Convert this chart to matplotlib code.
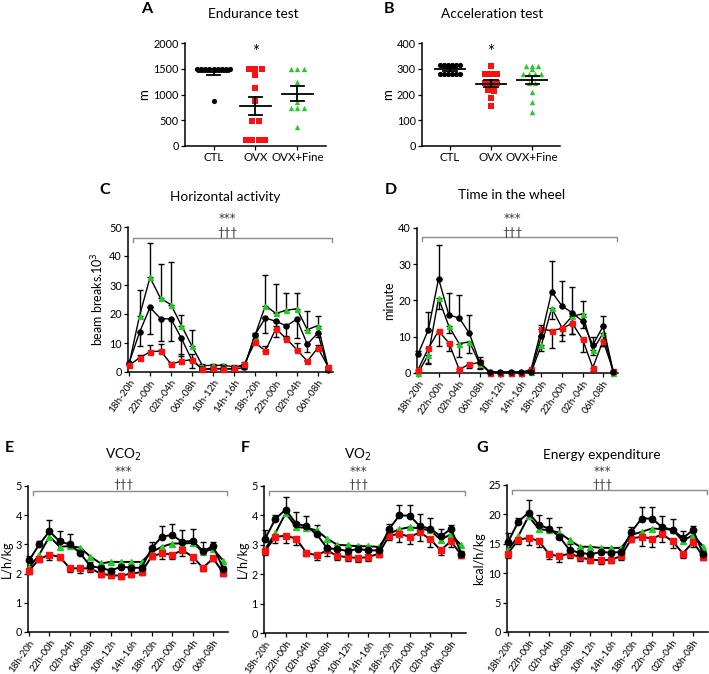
import matplotlib.pyplot as plt
import numpy as np

plt.rcParams['font.family'] = ['Lato', 'DejaVu Sans']

W, H = 709, 674

# ---- data : A / B scatter ----
groups = ["CTL", "OVX", "OVX+Fine"]
endur_ctl = [1500, 1500, 1500, 1500, 1500, 1500, 1500, 1500, 1500, 870]
endur_ovx = [1500, 1500, 1500, 1370, 1120, 870, 490, 490, 115, 115, 115, 115]
endur_fine = [1500, 1500, 1500, 1240, 860, 730, 730, 730, 360]

accel_ctl = [315, 315, 315, 315, 315, 315, 280, 280, 280, 280, 280, 280]
accel_ovx = [311, 279, 279, 279, 244, 244, 244, 216, 214, 185, 156]
accel_fine = [311, 311, 311, 298, 279, 279, 279, 279, 244, 244, 209, 172, 133]

# ---- data : time series ----
bins = ["18h-20h", "20h-22h", "22h-00h", "00h-02h", "02h-04h", "04h-06h",
        "06h-08h", "08h-10h", "10h-12h", "12h-14h", "14h-16h", "16h-18h",
        "18h-20h", "20h-22h", "22h-00h", "00h-02h", "02h-04h", "04h-06h",
        "06h-08h", "08h-10h"]

# C horizontal activity (beam breaks x10^3)
hor_ctl = [3.1, 13.7, 22.3, 18.4, 18.3, 11.6, 4.0, 0.9, 0.9, 1.3, 0.9, 1.6, 12.8, 18.6, 17.5, 15.9, 18.2, 9.6, 13.4, 0.8]
hor_ovx = [2.3, 4.9, 6.9, 7.3, 2.8, 3.7, 4.3, 1.0, 1.3, 1.0, 1.3, 2.8, 10.2, 7.3, 14.9, 11.5, 7.7, 3.7, 8.3, 1.8]
hor_fine = [2.6, 19.4, 32.6, 25.4, 23.2, 16.0, 8.9, 2.2, 2.3, 2.3, 1.8, 2.0, 12.5, 22.9, 20.2, 21.3, 21.8, 14.6, 16.0, 1.4]
hor_ctl_err = [0.5, 4.8, 9.2, 7.7, 7.6, 6.0, 2.5, 0.3, 0.5, 0.5, 0.5, 0.5, 1.5, 5.2, 5.4, 4.0, 6.5, 2.6, 1.5, 0.3]
hor_ovx_err = [0.3, 1.0, 2.3, 2.4, 0.6, 2.5, 2.0, 0.3, 0.3, 0.3, 0.3, 0.5, 0.5, 1.5, 1.0, 1.0, 2.2, 0.5, 1.0, 0.3]
hor_fine_err = [0.5, 9.0, 12.0, 12.0, 14.6, 3.8, 5.7, 0.5, 0.5, 0.5, 0.5, 0.5, 1.0, 10.5, 10.0, 6.0, 5.4, 6.5, 3.4, 0.3]

# D time in the wheel (minute)
whl_ctl = [5.2, 11.9, 26.0, 16.0, 15.2, 10.9, 2.9, 0.3, 0.3, 0.3, 0.3, 0.3, 10.2, 22.4, 18.5, 16.6, 14.3, 7.7, 12.9, 0.3]
whl_ovx = [0.9, 6.8, 11.6, 8.3, 1.0, 2.4, 2.9, 0.1, 0.1, 0.1, 0.1, 1.0, 12.1, 11.7, 12.3, 13.7, 9.3, 1.5, 8.9, 0.5]
whl_fine = [0.0, 5.0, 20.6, 12.9, 8.1, 8.6, 2.5, 0.2, 0.2, 0.2, 0.2, 0.2, 7.7, 17.9, 12.5, 15.7, 16.3, 6.3, 11.0, 0.0]
whl_ctl_err = [1.0, 5.0, 9.2, 6.2, 6.2, 5.1, 1.6, 0.2, 0.2, 0.2, 0.2, 0.2, 3.0, 8.6, 6.8, 7.2, 5.5, 2.3, 2.7, 0.2]
whl_ovx_err = [0.5, 4.0, 4.2, 2.3, 0.5, 1.0, 1.5, 0.1, 0.1, 0.1, 0.1, 0.5, 2.0, 4.7, 3.5, 3.0, 3.5, 1.0, 1.4, 0.3]
whl_fine_err = [0.0, 2.5, 3.0, 2.0, 3.6, 3.1, 1.5, 0.1, 0.1, 0.1, 0.1, 0.1, 1.7, 3.0, 2.0, 5.0, 4.0, 1.3, 3.5, 0.0]

# E VCO2 (L/h/kg)
vco2_ctl = [2.45, 3.0, 3.45, 3.1, 3.0, 2.7, 2.25, 2.2, 2.1, 2.24, 2.2, 2.2, 2.88, 3.27, 3.32, 3.08, 3.13, 2.77, 2.94, 2.15]
vco2_ovx = [2.1, 2.5, 2.65, 2.57, 2.18, 2.18, 2.18, 2.0, 1.94, 1.93, 2.0, 2.05, 2.6, 2.69, 2.65, 2.8, 2.58, 2.2, 2.52, 2.02]
vco2_fine = [2.2, 2.65, 3.27, 2.92, 2.94, 2.89, 2.58, 2.35, 2.4, 2.4, 2.4, 2.4, 2.74, 2.92, 3.03, 3.03, 3.05, 2.75, 2.84, 2.44]
vco2_ctl_err = [0.15, 0.1, 0.38, 0.35, 0.35, 0.15, 0.15, 0.1, 0.1, 0.1, 0.1, 0.1, 0.2, 0.36, 0.37, 0.4, 0.4, 0.3, 0.15, 0.1]
vco2_ovx_err = [0.1, 0.1, 0.2, 0.1, 0.12, 0.15, 0.12, 0.1, 0.1, 0.1, 0.1, 0.1, 0.1, 0.2, 0.15, 0.2, 0.2, 0.12, 0.1, 0.1]

# F VO2 (L/h/kg)
vo2_ctl = [3.2, 3.88, 4.2, 3.72, 3.63, 3.36, 2.89, 2.85, 2.79, 2.86, 2.81, 2.81, 3.53, 4.0, 3.99, 3.63, 3.55, 3.29, 3.54, 2.7]
vo2_ovx = [2.79, 3.27, 3.31, 3.21, 2.73, 2.64, 2.81, 2.62, 2.58, 2.55, 2.58, 2.7, 3.3, 3.38, 3.27, 3.42, 3.19, 2.81, 3.13, 2.64]
vo2_fine = [2.85, 3.4, 4.08, 3.6, 3.58, 3.49, 3.21, 3.0, 2.98, 2.95, 2.95, 2.93, 3.38, 3.53, 3.6, 3.55, 3.49, 3.17, 3.36, 2.98]
vo2_ctl_err = [0.3, 0.14, 0.43, 0.4, 0.35, 0.3, 0.24, 0.15, 0.15, 0.15, 0.15, 0.12, 0.17, 0.37, 0.38, 0.41, 0.36, 0.24, 0.14, 0.1]
vo2_ovx_err = [0.12, 0.22, 0.25, 0.23, 0.12, 0.17, 0.2, 0.12, 0.12, 0.12, 0.12, 0.12, 0.15, 0.3, 0.25, 0.3, 0.25, 0.15, 0.2, 0.1]

# G energy expenditure (kcal/h/kg)
ee_ctl = [15.3, 18.75, 20.3, 18.2, 17.6, 16.2, 13.9, 13.5, 13.2, 13.6, 13.5, 13.6, 17.05, 19.3, 19.3, 17.8, 17.4, 16.0, 17.3, 13.2]
ee_ovx = [13.35, 15.7, 16.0, 15.5, 13.2, 12.9, 13.35, 12.7, 12.3, 12.2, 12.3, 12.9, 15.9, 16.2, 15.9, 16.6, 15.45, 13.35, 15.3, 12.8]
ee_fine = [14.0, 16.3, 19.7, 17.5, 17.3, 16.9, 15.6, 14.5, 14.5, 14.3, 14.3, 14.3, 16.5, 17.05, 17.6, 17.5, 17.4, 15.5, 16.5, 14.5]
ee_ctl_err = [1.5, 0.6, 2.1, 1.7, 1.8, 1.6, 1.0, 0.8, 0.8, 0.8, 0.8, 0.8, 0.75, 1.9, 1.9, 1.9, 1.8, 1.2, 0.7, 0.5]
ee_ovx_err = [0.8, 0.8, 1.2, 1.0, 0.8, 1.0, 0.8, 0.6, 0.6, 0.6, 0.6, 0.6, 0.6, 1.6, 1.4, 1.3, 1.2, 0.8, 0.8, 0.5]

BLACK = '#000000'
RED = '#ff1010'
GREEN = '#22cc22'


def fx(x):
    return x / W


def fy(y):
    return 1 - y / H


def rect(l, t, r, b):
    return [fx(l), fy(b), (r - l) / W, (b - t) / H]


fig = plt.figure(figsize=(W / 100, H / 100), dpi=100)


def ftext(x, y, s, **kw):
    kw.setdefault('va', 'center')
    fig.text(fx(x), fy(y), s, ha='center', **kw)


def style(ax):
    for s in ['top', 'right']:
        ax.spines[s].set_visible(False)
    for s in ['left', 'bottom']:
        ax.spines[s].set_linewidth(1.1)
    ax.tick_params(labelsize=7.8, length=3, width=0.9, pad=1.5)


def swarm(vals, tol, step):
    vals = np.asarray(vals, float)
    xs = np.zeros(len(vals))
    used = np.zeros(len(vals), bool)
    for i in range(len(vals)):
        if used[i]:
            continue
        idx = np.where((~used) & (np.abs(vals - vals[i]) <= tol))[0]
        n = len(idx)
        xs[idx] = (np.arange(n) - (n - 1) / 2) * step
        used[idx] = True
    return xs


def scatter_panel(r, data, ylim, yticks, tol, star_y):
    ax = fig.add_axes(r)
    style(ax)
    specs = [(BLACK, 'o', 14, 0.1), (RED, 's', 13, 0.15), (GREEN, '^', 15, 0.15)]
    for k, (vals, (c, m, s, st)) in enumerate(zip(data, specs)):
        xo = swarm(vals, tol, st)
        ax.scatter(k + xo, vals, s=s, c=c, marker=m, linewidths=0, zorder=2, clip_on=False)
        mean = np.mean(vals)
        sem = np.std(vals, ddof=1) / np.sqrt(len(vals))
        ax.plot([k - 0.36, k + 0.36], [mean, mean], color='k', lw=1.3, zorder=3)
        ax.plot([k, k], [mean - sem, mean + sem], color='k', lw=1.3, zorder=3)
        for v in (mean - sem, mean + sem):
            ax.plot([k - 0.16, k + 0.16], [v, v], color='k', lw=1.3, zorder=3)
    ax.set_xlim(-0.68, 2.68)
    ax.set_ylim(*ylim)
    ax.set_yticks(yticks)
    ax.set_xticks(range(3))
    ax.set_xticklabels(groups, fontsize=8.3)
    ax.text(1, star_y, '*', ha='center', va='center', fontsize=12)
    return ax


def time_panel(r, series, ylim, yticks, lw, br_y, tick_fs=7.2):
    ax = fig.add_axes(r)
    style(ax)
    x = np.arange(len(bins))
    for vals, err, direction, c, m, msz in series:
        vals = np.asarray(vals)
        if err is not None:
            err = np.asarray(err)
            lo = err if direction == 'down' else np.zeros_like(err)
            hi = err if direction == 'up' else np.zeros_like(err)
            ax.errorbar(x, vals, yerr=[lo, hi], fmt='none', ecolor='k',
                        elinewidth=1.0, capsize=2, capthick=1.0, zorder=2, clip_on=False)
    for vals, err, direction, c, m, msz in series:
        ax.plot(x, vals, color='k', lw=lw, marker=m, ms=msz, mfc=c, mec=c,
                zorder=3, clip_on=False)
    ax.set_xlim(-0.1, 19.45)
    ax.set_ylim(*ylim)
    ax.set_yticks(yticks)
    ax.set_xticks(x[::2])
    ax.set_xticklabels(bins[::2], rotation=55, ha='right', rotation_mode='anchor', fontsize=tick_fs)
    tr = ax.get_xaxis_transform()
    g = '#8c8c8c'
    ax.plot([0.35, 0.35, 19.4, 19.4], [br_y - 0.03, br_y, br_y, br_y - 0.03],
            color=g, lw=1.0, transform=tr, clip_on=False)
    return ax


def stars(x, y1, y2):
    # asterisks in DejaVu are larger, closer to the original glyphs
    ftext(x, y1, '***', fontsize=8.5, color='#333333', family='DejaVu Sans', va='bottom')
    ftext(x, y2, '†††', fontsize=8.5, color='#333333', va='center')


# ---- A ----
axA = scatter_panel(rect(185, 43, 326, 146), [endur_ctl, endur_ovx, endur_fine],
                    (0, 2000), [0, 500, 1000, 1500, 2000], 40, 1830)
axA.set_ylabel('m', fontsize=9.5, labelpad=2)
ftext(253, 14, 'Endurance test', fontsize=9.8)
ftext(147, 9, 'A', fontsize=11.5, fontweight='bold')

# ---- B ----
axB = scatter_panel(rect(422, 43, 560, 146), [accel_ctl, accel_ovx, accel_fine],
                    (0, 400), [0, 100, 200, 300, 400], 6, 365)
axB.set_ylabel('m', fontsize=9.5, labelpad=2)
ftext(492, 14, 'Acceleration test', fontsize=9.8)
ftext(389, 9, 'B', fontsize=11.5, fontweight='bold')

# ---- C ----
axC = time_panel(rect(128, 227, 333, 372),
                 [(hor_fine, hor_fine_err, 'up', GREEN, '^', 3.6),
                  (hor_ctl, hor_ctl_err, 'down', BLACK, 'o', 3.6),
                  (hor_ovx, hor_ovx_err, 'up', RED, 's', 3.6)],
                 (0, 50), [0, 10, 20, 30, 40, 50], 1.0, 0.924)
axC.set_ylabel('beam breaks.10$^3$', fontsize=9, labelpad=2)
ftext(225, 197, 'Horizontal activity', fontsize=9.8)
ftext(105, 190, 'C', fontsize=11.5, fontweight='bold')
stars(227, 225, 232)

# ---- D ----
axD = time_panel(rect(417, 228, 618, 373),
                 [(whl_fine, whl_fine_err, 'down', GREEN, '^', 3.6),
                  (whl_ovx, whl_ovx_err, 'down', RED, 's', 3.6),
                  (whl_ctl, whl_ctl_err, 'up', BLACK, 'o', 3.6)],
                 (0, 40), [0, 10, 20, 30, 40], 1.0, 0.938)
axD.set_ylabel('minute', fontsize=9, labelpad=2)
ftext(512, 195, 'Time in the wheel', fontsize=9.8)
ftext(391, 190, 'D', fontsize=11.5, fontweight='bold')
stars(512, 225, 232)

# ---- E ----
axE = time_panel(rect(28, 486, 228, 632),
                 [(vco2_fine, None, None, GREEN, '^', 4.6),
                  (vco2_ovx, vco2_ovx_err, 'down', RED, 's', 4.8),
                  (vco2_ctl, vco2_ctl_err, 'up', BLACK, 'o', 4.6)],
                 (0, 5), [0, 1, 2, 3, 4, 5], 1.4, 0.966, 7.0)
axE.set_ylabel('L/h/kg', fontsize=9, labelpad=2)
ftext(123, 455, 'VCO$_2$', fontsize=9.8)
ftext(9, 448, 'E', fontsize=11.5, fontweight='bold')
stars(123, 478, 484)

# ---- F ----
axF = time_panel(rect(264, 486, 466, 633),
                 [(vo2_fine, None, None, GREEN, '^', 4.6),
                  (vo2_ovx, vo2_ovx_err, 'down', RED, 's', 4.8),
                  (vo2_ctl, vo2_ctl_err, 'up', BLACK, 'o', 4.6)],
                 (0, 5), [0, 1, 2, 3, 4, 5], 1.4, 0.966, 7.0)
axF.set_ylabel('L/h/kg', fontsize=9, labelpad=2)
ftext(358, 455, 'VO$_2$', fontsize=9.8)
ftext(245, 448, 'F', fontsize=11.5, fontweight='bold')
stars(358, 478, 484)

# ---- G ----
axG = time_panel(rect(507, 485, 708, 632),
                 [(ee_fine, None, None, GREEN, '^', 4.6),
                  (ee_ovx, ee_ovx_err, 'down', RED, 's', 4.8),
                  (ee_ctl, ee_ctl_err, 'up', BLACK, 'o', 4.6)],
                 (0, 25), [0, 5, 10, 15, 20, 25], 1.4, 0.966, 7.0)
axG.set_ylabel('kcal/h/kg', fontsize=9, labelpad=2)
ftext(602, 455, 'Energy expenditure', fontsize=9.8)
ftext(482, 448, 'G', fontsize=11.5, fontweight='bold')
stars(602, 478, 484)

fig.savefig('out.png', dpi=100)
